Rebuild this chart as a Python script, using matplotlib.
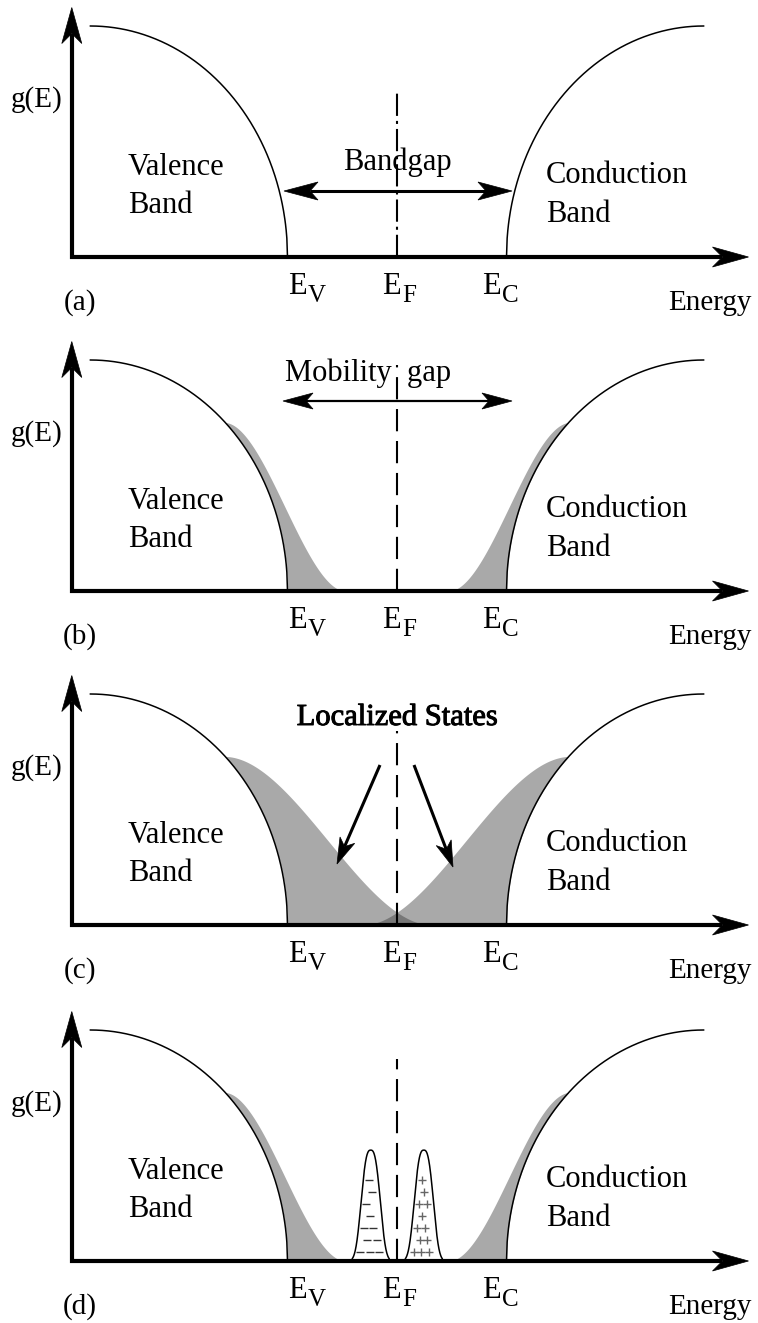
import numpy as np
import matplotlib.pyplot as plt
import matplotlib.patheffects as pe
from matplotlib.patches import Polygon

plt.rcParams['font.family'] = ['Liberation Serif', 'DejaVu Serif']
plt.rcParams['lines.scale_dashes'] = False

# figure size in pixels
W, H = 758, 1323

# energy levels (E_F at 0, band edges at -1 / +1)
E_V, E_F, E_C = -1.0, 0.0, 1.0
band_width = 1.8          # energy span of the drawn band curves
axis_start, axis_end = -2.97, 3.21
g_axis_top = 1.08
ef_tops = [0.72, 0.98, 0.84, 0.875]

panel_labels = ['(a)', '(b)', '(c)', '(d)']
axis_rows = [257, 591, 925, 1261]      # pixel row of each energy axis
gap_labels = ['Bandgap', 'Mobility  gap', 'Localized States', None]

# band tails: (join energy, join g, end energy) of valence tail; conduction is mirrored
tails = [None, (-1.58, 0.73, -0.47), (-1.58, 0.73, 0.32), (-1.58, 0.73, -0.47)]

# defect peaks of panel (d): centre, height, width
peak_centres = [-0.24, 0.245]
peak_height = 0.48
peak_width = 0.104
peak_halfbase = 0.169
peak_marks = ['_', '+']
mark_colors = ['#333333', '#666666']

# scale of the drawing: pixels per energy unit and per g unit
PX_E, PX_G = 109.5, 231.0
x_left, x_right = -397 / PX_E, (W - 397) / PX_E

GRAY = '#a9a9a9'
DARK = '#777777'


def px_x(px):
    return (px - 397) / PX_E


def valence(E):
    u = np.clip((E_V - E) / band_width, 0, 1)
    return np.where(E <= E_V, np.sqrt(1 - (1 - u) ** 2), 0.0)


def conduction(E):
    return valence(-E)


def tail(E, join_e, join_g, end_e):
    t = np.clip((E - join_e) / (end_e - join_e), 0, 1)
    return join_g * (1 - (3 * t ** 2 - 2 * t ** 3))


def peak(x, c):
    return peak_height * np.exp(-(np.abs(x - c) / peak_width) ** 2.8)


def head(ax, tip, d, length, half, notch):
    # arrow head polygon, sizes in pixels, direction d in pixel space
    d = np.array(d, float) / np.hypot(*d)
    n = np.array([-d[1], d[0]])
    pts = [np.zeros(2), -length * d + half * n, -(length - notch) * d, -length * d - half * n]
    verts = [(tip[0] + p[0] / PX_E, tip[1] + p[1] / PX_G) for p in pts]
    ax.add_patch(Polygon(verts, closed=True, fc='k', ec='k', lw=0.5, zorder=6))


def arrow(ax, start, end, lw, length, half, notch, both=False):
    d = ((end[0] - start[0]) * PX_E, (end[1] - start[1]) * PX_G)
    dn = np.array(d) / np.hypot(*d)
    back = length - notch
    e1 = (end[0] - back * dn[0] / PX_E, end[1] - back * dn[1] / PX_G)
    s1 = start
    if both:
        s1 = (start[0] + back * dn[0] / PX_E, start[1] + back * dn[1] / PX_G)
        head(ax, start, -dn, length, half, notch)
    ax.plot([s1[0], e1[0]], [s1[1], e1[1]], color='k', lw=lw, solid_capstyle='butt', zorder=5)
    head(ax, end, dn, length, half, notch)


def sub_label(ax, x_px, main, sub):
    ax.text(px_x(x_px), -37 / PX_G, main, fontsize=22, ha='left', va='baseline')
    ax.text(px_x(x_px + 20), -45 / PX_G, sub, fontsize=18, ha='left', va='baseline')


fig = plt.figure(figsize=(W / 100, H / 100), dpi=100)

for i, row in enumerate(axis_rows):
    top, bottom = row - 265, row + 62
    ax = fig.add_axes([0, 1 - bottom / H, 1, (bottom - top) / H])
    ax.set_xlim(x_left, x_right)
    ax.set_ylim(-62 / PX_G, 265 / PX_G)
    ax.axis('off')

    E = np.linspace(axis_start, axis_end, 2000)

    if tails[i] is not None:
        je, jg, ee = tails[i]
        tv = np.where(E >= je, tail(E, je, jg, ee), 0.0)
        tc = np.where(-E >= je, tail(-E, je, jg, ee), 0.0)
        ax.fill_between(E, valence(E), tv, where=tv > valence(E), color=GRAY, lw=0, zorder=1)
        ax.fill_between(E, conduction(E), tc, where=tc > conduction(E), color=GRAY, lw=0, zorder=1)
        both = np.minimum(tv, tc)
        if both.max() > 0:
            ax.fill_between(E, 0, both, where=both > 0, color=DARK, lw=0, zorder=2)

    Ev = np.linspace(E_V - band_width, E_V, 300)
    ax.plot(Ev, valence(Ev), color='k', lw=1.1, zorder=4)
    ax.plot(-Ev, conduction(-Ev), color='k', lw=1.1, zorder=4)

    if i == 3:
        for c, m, mc in zip(peak_centres, peak_marks, mark_colors):
            xs = np.linspace(c - peak_halfbase, c + peak_halfbase, 200)
            ys = peak(xs, c)
            ax.fill_between(xs, 0, ys, color='white', zorder=3)
            ax.plot(np.r_[xs[0], xs, xs[-1]], np.r_[0, ys, 0], color='k', lw=1.1, zorder=4)
            # texture of charge signs inside the peak
            gy = np.arange(0.04, peak_height - 0.03, 0.052)
            for k, yy in enumerate(gy):
                w = peak_width * np.log(peak_height / yy) ** (1 / 2.8)
                w = min(w, peak_halfbase) - 0.05
                if w < 0:
                    continue
                step = 0.085 if m == '_' else 0.07
                xx = np.arange(c - w + (k % 2) * step / 2, c + w + 1e-6, step)
                ax.plot(xx, np.full_like(xx, yy), ls='none', marker=m, ms=6,
                        mew=1.0, color=mc, zorder=4)

    # E_F line
    dash = (16, 3.6, 2.2, 3.6) if i == 0 else (16, 7)
    ax.plot([E_F, E_F], [0, ef_tops[i]], color='k', lw=1.5, dashes=dash, zorder=3)

    # axes with arrows
    ax.plot([axis_start, axis_start, axis_end - 26 / PX_E],
            [g_axis_top - 26 / PX_G, 0, 0], color='k', lw=3, solid_joinstyle='miter',
            solid_capstyle='butt', zorder=5)
    head(ax, (axis_start, g_axis_top), (0, 1), 36, 10, 10)
    head(ax, (axis_end, 0), (1, 0), 36, 10, 10)

    # labels
    ax.text(px_x(37), 157 / PX_G, 'g(E)', fontsize=21, ha='center', va='center')
    ax.text(px_x(128), 82 / PX_G, 'Valence', fontsize=22, ha='left', va='baseline')
    ax.text(px_x(128), 44 / PX_G, 'Band', fontsize=22, ha='left', va='baseline')
    ax.text(px_x(546), 74 / PX_G, 'Conduction', fontsize=22, ha='left', va='baseline')
    ax.text(px_x(546), 35 / PX_G, 'Band', fontsize=22, ha='left', va='baseline')
    ax.text(px_x(80), -46 / PX_G, panel_labels[i], fontsize=21, ha='center', va='center')
    ax.text(px_x(752), -53 / PX_G, 'Energy', fontsize=21, ha='right', va='baseline')
    sub_label(ax, 288, 'E', 'V')
    sub_label(ax, 382, 'E', 'F')
    sub_label(ax, 482, 'E', 'C')

    if i == 0:
        arrow(ax, (px_x(284), 66 / PX_G), (px_x(512), 66 / PX_G), 2.2, 34, 9, 8, both=True)
        ax.text(E_F, 87 / PX_G, gap_labels[i], fontsize=22, ha='center', va='baseline')
    elif i == 1:
        arrow(ax, (px_x(283), 190 / PX_G), (px_x(512), 190 / PX_G), 1.6, 30, 8, 7, both=True)
        ax.text(px_x(285), 210 / PX_G, gap_labels[i], fontsize=22, ha='left', va='baseline',
                bbox=dict(fc='none', ec='none'))
    elif i == 2:
        ax.text(E_F, 200 / PX_G, gap_labels[i], fontsize=22, ha='center', va='baseline',
                path_effects=[pe.withStroke(linewidth=0.7, foreground='k')])
        arrow(ax, (px_x(380), 160 / PX_G), (px_x(337), 61 / PX_G), 2.2, 26, 8, 7)
        arrow(ax, (px_x(414), 160 / PX_G), (px_x(453), 58 / PX_G), 2.2, 26, 8, 7)

fig.savefig('out.png', dpi=100)
